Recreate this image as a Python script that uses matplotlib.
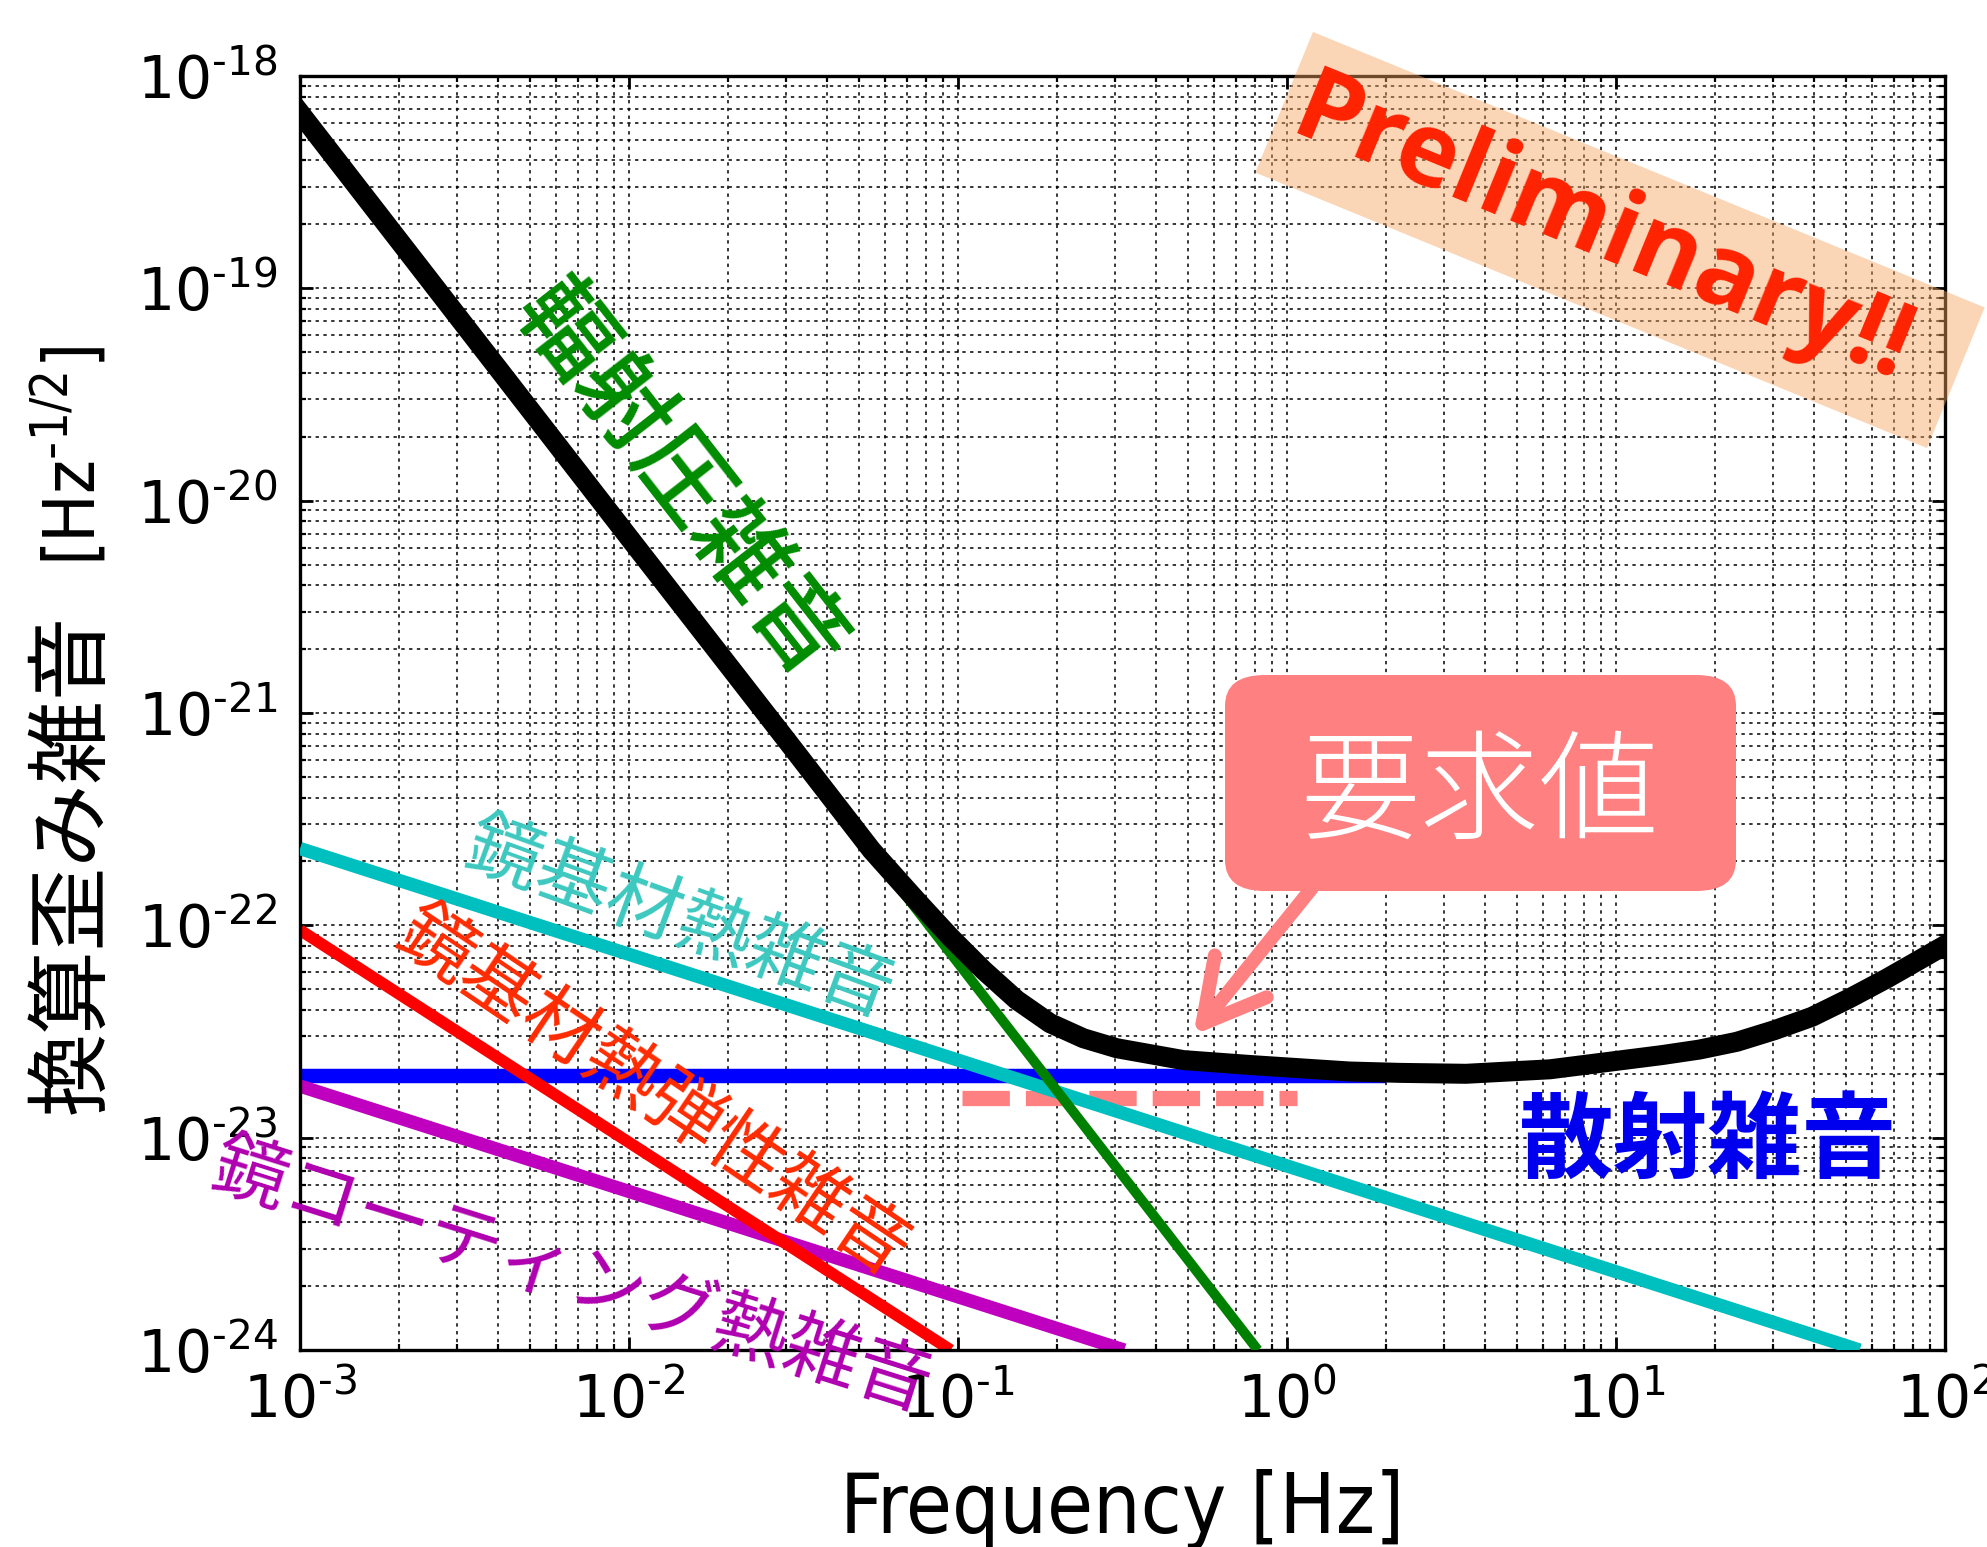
import numpy as np
import matplotlib
matplotlib.use("Agg")
import matplotlib.pyplot as plt
from matplotlib.patches import Rectangle, FancyBboxPatch
from matplotlib.transforms import Affine2D
from matplotlib.ticker import LogLocator, FuncFormatter, NullFormatter

plt.rcParams['font.family'] = ['DejaVu Sans', 'Noto Sans CJK JP']
plt.rcParams['mathtext.fontset'] = 'dejavusans'

# ---------------------------------------------------------------
#  データ
# ---------------------------------------------------------------
f_total = [1e-3, 1e-2, 0.03, 0.0546, 0.0748, 0.0946, 0.1194, 0.1508,
           0.1905, 0.2404, 0.3034, 0.484, 0.772, 1.55, 2.2, 3.5, 6.3,
           13.8, 17.9, 23.3, 30.3, 39.4, 51.2, 66.5, 81.8, 100.0]
h_total = [6.7e-19, 6.7e-21, 7.5e-22, 2.26e-22, 1.31e-22, 8.83e-23,
           6.16e-23, 4.45e-23, 3.46e-23, 2.94e-23, 2.64e-23, 2.32e-23,
           2.2e-23, 2.05e-23, 2.02e-23, 2.0e-23, 2.1e-23, 2.45e-23,
           2.6e-23, 2.83e-23, 3.21e-23, 3.71e-23, 4.53e-23, 5.62e-23,
           6.75e-23, 8.07e-23]

f_rad = [1e-3, 0.815]             # 輻射圧雑音
h_rad = [6.65e-19, 1.0e-24]

f_shot = [1e-3, 2.0]              # 散射雑音 (以降は総和の線に隠れる)
h_shot = [1.95e-23, 1.95e-23]

f_sub = [1e-3, 55.0]              # 鏡基材熱雑音
h_sub = [2.3e-22, 1.0e-24]

f_te = [1e-3, 0.095]              # 鏡基材熱弾性雑音
h_te = [9.5e-23, 1.0e-24]

f_coat = [1e-3, 0.32]             # 鏡コーティング熱雑音
h_coat = [1.75e-23, 1.0e-24]

f_req = [0.103, 1.07]             # 要求値
h_req = [1.53e-23, 1.53e-23]
f_arrow, h_arrow = 0.519, 3.04e-23

W, H, DPI = 1987, 1547, 200
JP = ['Noto Sans CJK JP']


def fx(px):
    return px / W


def fy(py):
    return 1 - py / H


fig = plt.figure(figsize=(W / DPI, H / DPI), dpi=DPI)
ax = fig.add_axes([0.151, 0.1273, 0.8279, 0.8236])

ax.loglog(f_shot, h_shot, color='b', lw=5.2, solid_capstyle='butt', zorder=2)
ax.loglog(f_coat, h_coat, color='m', lw=4.8, solid_capstyle='butt', zorder=2)
ax.loglog(f_te, h_te, color='r', lw=4.2, solid_capstyle='butt', zorder=2)
ax.loglog(f_req, h_req, color='#ff8080', lw=5.5, dashes=(3.1, 1.05),
          dash_capstyle='butt', zorder=2)
ax.loglog(f_sub, h_sub, color='c', lw=4.8, solid_capstyle='butt', zorder=3)
ax.loglog(f_rad, h_rad, color='g', lw=3.6, solid_capstyle='butt', zorder=3)
ax.loglog(f_total, h_total, color='k', lw=7.2, zorder=4)

ax.set_xlim(1e-3, 1e2)
ax.set_ylim(1e-24, 1e-18)


def decade(v, _):
    n = int(round(np.log10(v)))
    sign = r'\text{-}' if n < 0 else ''
    return r'$\mathdefault{10^{%s%d}}$' % (sign, abs(n))


for axis in (ax.xaxis, ax.yaxis):
    axis.set_major_locator(LogLocator(base=10, numticks=20))
    axis.set_minor_locator(LogLocator(base=10, subs=np.arange(2, 10), numticks=200))
    axis.set_major_formatter(FuncFormatter(decade))
    axis.set_minor_formatter(NullFormatter())

ax.tick_params(which='both', direction='in', top=True, right=True, labelsize=21)
ax.tick_params(which='major', length=4.7, width=1.0, pad=8)
ax.tick_params(which='minor', length=2.0, width=0.8)
ax.grid(True, which='both', ls=(0, (2.2, 2.9)), color='k', lw=0.55)
for sp in ax.spines.values():
    sp.set_linewidth(1.2)

ax.set_xlabel('Frequency [Hz]', fontsize=30, labelpad=14,
              fontstretch='condensed')

# 縦軸ラベル (日本語部分 + 単位部分)
yl1 = fig.text(fx(96), fy(1114), '換算歪み雑音', rotation=90, fontsize=30,
               ha='left', va='baseline', rotation_mode='anchor', family=JP)
renderer = fig.canvas.get_renderer()
bb = yl1.get_window_extent(renderer)
yl2 = fig.text(fx(96), (bb.y1 + 48) / H, r'[Hz$^{\mathdefault{\text{-}1/2}}$]',
               rotation=90, fontsize=26, ha='left', va='baseline',
               rotation_mode='anchor', fontstretch='condensed')

# 曲線ラベル
fig.text(fx(679), fy(482), '輻射圧雑音', color='#008c00', fontsize=34,
         fontweight='medium', rotation=-52, ha='center', va='center',
         rotation_mode='anchor', family=JP)
fig.text(fx(679), fy(920), '鏡基材熱雑音', color='#3cc8c0', fontsize=27,
         rotation=-20, ha='center', va='center', rotation_mode='anchor',
         family=JP)
fig.text(fx(653), fy(1093), '鏡基材熱弾性雑音', color='#ff2a00', fontsize=27,
         rotation=-34, ha='center', va='center', rotation_mode='anchor',
         family=JP)
fig.text(fx(571), fy(1278), '鏡コーティング熱雑音', color='#b000b0', fontsize=27,
         rotation=-17.5, ha='center', va='center', rotation_mode='anchor',
         family=JP)
fig.text(fx(1708), fy(1143), '散射雑音', color='#0000ee', fontsize=34,
         fontweight='bold', ha='center', va='center', family=JP)

# 要求値ボックスと矢印
box = FancyBboxPatch((fx(1225), fy(891)), fx(1736) - fx(1225), fy(675) - fy(891),
                     boxstyle='round,pad=0,rounding_size=0.02',
                     transform=fig.transFigure, facecolor='#ff8080',
                     edgecolor='none', zorder=5)
fig.add_artist(box)
fig.text(fx(1480), fy(797), '要求値', color='white', fontsize=43,
         fontweight='light', ha='center', va='center', family=JP, zorder=6)
ax.annotate('', xy=(f_arrow, h_arrow), xycoords='data',
            xytext=(fx(1312), fy(888)), textcoords='figure fraction',
            arrowprops=dict(arrowstyle='->,head_length=1.1,head_width=0.6',
                            mutation_scale=20, color='#ff8080', lw=5.0,
                            capstyle='round', joinstyle='round',
                            shrinkA=0, shrinkB=0),
            zorder=5)

# Preliminary バナー
cx, cy = 1620, H - 240
banner = Rectangle((cx - 363, cy - 76), 726, 152, facecolor='#f4a460',
                   alpha=0.45, edgecolor='none',
                   transform=Affine2D().rotate_deg_around(cx, cy, -22.3),
                   zorder=7)
fig.add_artist(banner)
fig.text(fx(1602), fy(233), 'Preliminary!!', color='#ff2200', fontsize=37,
         fontweight='bold', rotation=-22.3, ha='center', va='center',
         rotation_mode='anchor', family=['Open Sans', 'DejaVu Sans'], zorder=8)

fig.savefig('out.png', dpi=DPI)
